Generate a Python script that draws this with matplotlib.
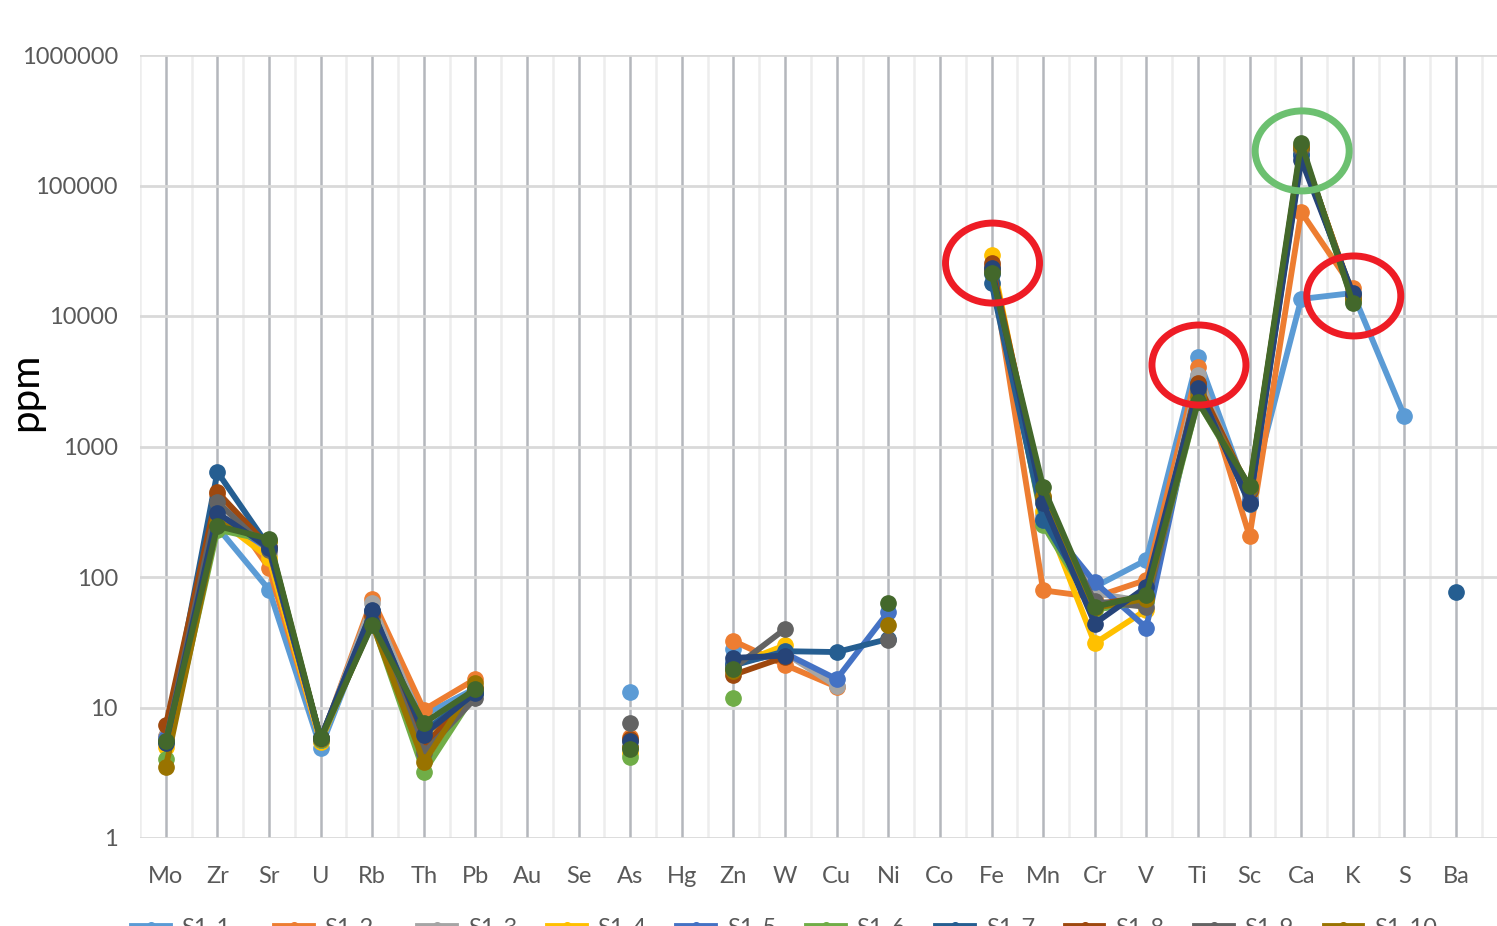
import numpy as np
import matplotlib
matplotlib.use('Agg')
import matplotlib.pyplot as plt
from matplotlib.patches import Ellipse

plt.rcParams['font.family'] = ['Lato', 'DejaVu Sans']

n = np.nan

elements = ['Mo', 'Zr', 'Sr', 'U', 'Rb', 'Th', 'Pb', 'Au', 'Se', 'As', 'Hg', 'Zn', 'W',
            'Cu', 'Ni', 'Co', 'Fe', 'Mn', 'Cr', 'V', 'Ti', 'Sc', 'Ca', 'K', 'S', 'Ba']

s1_1 = [5.5, 240, 80, 4.9, 50, 8.8, 14, n, n, 13.1, n, 28, n, n, n, n,
        22000, 260, 84, 135, 4850, 400, 13500, 15000, 1710, n]
s1_2 = [6.0, 430, 117, 5.5, 68, 9.6, 16.5, n, n, 5.9, n, 32.3, 21.2, 14.4, n, n,
        24000, 79, 70, 95, 4060, 205, 62700, 16400, n, n]
s1_3 = [6.0, 380, 150, 5.6, 63, 7.0, 13, n, n, 5.5, n, 22, 26, 14.5, n, n,
        22500, 300, 75, 65, 3500, 420, 180000, 14000, n, n]
s1_4 = [5.0, 280, 140, 5.4, 50, 6.0, 14, n, n, 4.5, n, 21, 30, n, n, n,
        29300, 320, 31, 56, 2600, 450, 190000, 14500, n, n]
s1_5 = [5.8, 290, 165, 5.6, 52, 6.5, 13, n, n, n, n, 22, 26, 16.5, 54, n,
        21000, 280, 91, 41, 2900, 380, 175000, 14200, n, n]
s1_6 = [4.0, 230, 190, 5.6, 45, 3.2, 13, n, n, 4.2, n, 11.8, n, n, n, n,
        22000, 250, 56, 65, 2200, 480, 190000, 13000, n, n]
s1_7 = [5.5, 638, 170, 5.8, 55, 6.5, 13, n, n, 5.0, n, 21, 27, 26.6, 33.5, n,
        17900, 273, 60, 70, 3000, 360, 170000, 14500, n, 77]
s1_8 = [7.3, 448, 170, 5.8, 50, 5.0, 14, n, n, 5.7, n, 17.8, 24.4, n, n, n,
        25500, 400, 62, 70, 3050, 460, 195000, 14000, n, n]
s1_9 = [5.5, 376, 160, 5.8, 45, 4.5, 11.8, n, n, 7.6, n, 20, 40, n, 33, n,
        22000, 400, 65, 59, 2600, 470, 195000, 14000, n, n]
s1_10 = [3.5, 260, 190, 5.7, 44, 3.8, 15.4, n, n, 5.0, n, 19, n, n, 43, n,
         23000, 420, 58, 68, 2400, 490, 200000, 13500, n, n]
s1_11 = [5.3, 310, 167, 5.8, 56, 6.2, 13, n, n, 5.5, n, 24, 25, n, n, n,
         23400, 369, 44, 84, 2800, 370, 158000, 15000, n, n]
s1_12 = [5.5, 246, 196, 5.8, 43, 7.6, 13.8, n, n, 4.8, n, 19.7, n, n, 63, n,
         21400, 490, 59, 73, 2200, 500, 212000, 12600, n, n]

series = [s1_1, s1_2, s1_3, s1_4, s1_5, s1_6, s1_7, s1_8, s1_9, s1_10, s1_11, s1_12]
names = [f'S1-{i}' for i in range(1, 13)]
colors = ['#5B9BD5', '#ED7D31', '#A5A5A5', '#FFC000', '#4472C4', '#70AD47',
          '#255E91', '#9E480E', '#636363', '#997300', '#264478', '#43682B']

# highlighted elements (circled in the original)
highlights = [('Fe', '#EE1C25'), ('Ti', '#EE1C25'), ('Ca', '#6CC070'), ('K', '#EE1C25')]

W, H = 1497, 926
fig = plt.figure(figsize=(W / 100, H / 100), dpi=100)
ax = fig.add_axes([140 / W, (H - 838) / H, 1 - 140 / W, (838 - 55) / H])

x = np.arange(len(elements))
handles = []
for vals, name, c in zip(series, names, colors):
    h, = ax.plot(x, np.array(vals, dtype=float), color=c, lw=4.2, marker='o',
                 markersize=11, label=name, solid_joinstyle='round')
    handles.append(h)

ax.set_yscale('log')
ax.set_ylim(1, 1e6)
ax.set_xlim(-0.5, (W - 166) / 51.6)
ax.set_yticks([10 ** k for k in range(7)])
ax.set_yticklabels([str(10 ** k) for k in range(7)])
ax.yaxis.set_minor_locator(matplotlib.ticker.NullLocator())
ax.set_xticks(x)
ax.set_xticklabels(elements)
ax.tick_params(axis='both', length=0, colors='#595959')
ax.tick_params(axis='x', pad=20, labelsize=17)
ax.tick_params(axis='y', pad=16, labelsize=17)

ax.grid(False)
for k in range(7):
    ax.axhline(10 ** k, color='#D9D9D9', lw=2, zorder=0.5)
for xi in x:
    ax.axvline(xi, color='#B4B7BC', lw=1.8, zorder=0.4)
for xi in np.arange(len(elements) + 1) - 0.5:
    ax.axvline(xi, color='#EDEDED', lw=1.8, zorder=0.3)
for s in ax.spines.values():
    s.set_visible(False)

ax.set_ylabel('ppm', fontsize=29, color='black')
ax.yaxis.set_label_coords(-96 / (W - 140), 0.57)

# circles around highlighted elements
fig.canvas.draw()
inv = ax.transAxes.inverted()
aw = W - 140
ah = 838 - 55
for el, c in highlights:
    i = elements.index(el)
    top = np.nanmax([s[i] for s in series])
    px, py = ax.transData.transform((i, top))
    cx, cy = inv.transform((px + 1, py - 8))
    ax.add_patch(Ellipse((cx, cy), 94 / aw, 80 / ah, transform=ax.transAxes,
                         fill=False, ec=c, lw=5, zorder=10, clip_on=False))

# legend: 10 per row, row-major like Excel; mostly cropped off below
order = [0, 10, 1, 11, 2, 3, 4, 5, 6, 7, 8, 9]
fig.legend([handles[i] for i in order], [names[i] for i in order],
           loc='upper left', bbox_to_anchor=(127 / W, 1 - 913 / H), ncol=10,
           frameon=False, fontsize=17, labelcolor='#595959', handlelength=1.6,
           handletextpad=0.5, columnspacing=1.3, markerscale=0.5,
           borderaxespad=0, borderpad=0.2)

fig.savefig('out.png', dpi=100)
